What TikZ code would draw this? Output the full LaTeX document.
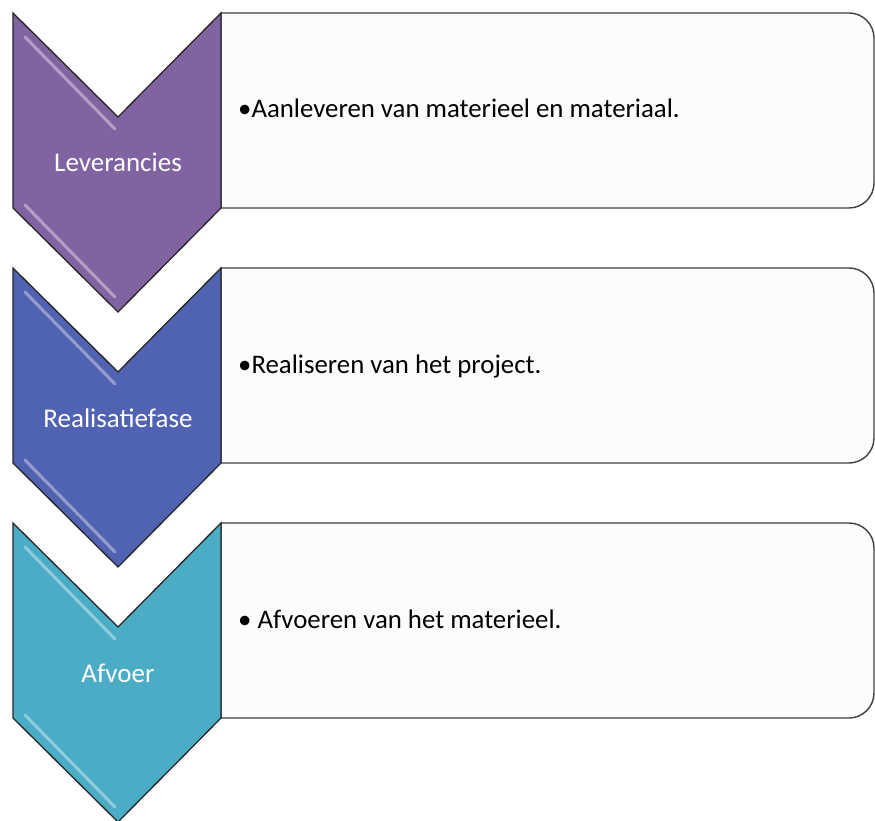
\documentclass[tikz,border=0pt]{standalone}
\usepackage{fontspec}
\setmainfont{Carlito}
\usepackage{tikz}

\definecolor{stagepurple}{RGB}{128,100,162}
\definecolor{stageblue}{RGB}{80,98,178}
\definecolor{stageteal}{RGB}{75,172,198}

\tikzset{
  chevron/.style={draw=black!85, line width=1.3pt, line join=miter},
  bevel/.style={line width=3pt, line cap=round, opacity=0.7},
  infobox/.style={draw=black!75, line width=1.4pt, fill=black!1},
  stagelabel/.style={text=white, font=\fontsize{27}{32}\selectfont, anchor=base},
  itemtext/.style={text=black, font=\fontsize{26.8}{32}\selectfont, anchor=base west, inner sep=0pt},
}

\begin{document}
\begin{tikzpicture}[x=1pt,y=-1pt]
  \useasboundingbox (0,0) rectangle (875,821);

  % Stages: top, colour, name, item
  \foreach \y/\col/\name/\item/\id in {
      13/stagepurple/Leverancies/{\textbullet Aanleveren van materieel en materiaal.}/lev,
      268/stageblue/Realisatiefase/{\textbullet Realiseren van het project.}/real,
      523/stageteal/Afvoer/{\textbullet\ Afvoeren van het materieel.}/afv} {
    % Box
    \draw[infobox] (221,\y) -- (849,\y)
      arc[start angle=-90, end angle=0, radius=25] -- (874,\y+170)
      arc[start angle=0, end angle=90, radius=25] -- (221,\y+195) -- cycle;
    % Chevron
    \draw[chevron, fill=\col] (13,\y) -- (118,\y+104) -- (221,\y) -- (221,\y+195)
      -- (118,\y+299) -- (13,\y+195) -- cycle;
    % Bevel highlights
    \draw[bevel, \col!45!white] (25,\y+24) -- (115,\y+116);
    \draw[bevel, \col!45!white] (25,\y+192) -- (115,\y+284);
    % Texts
    \node[stagelabel] (\id-label) at (118,\y+159) {\name};
    \node[itemtext] (\id-item) at (238,\y+105) {\item};
  }
\end{tikzpicture}
\end{document}
